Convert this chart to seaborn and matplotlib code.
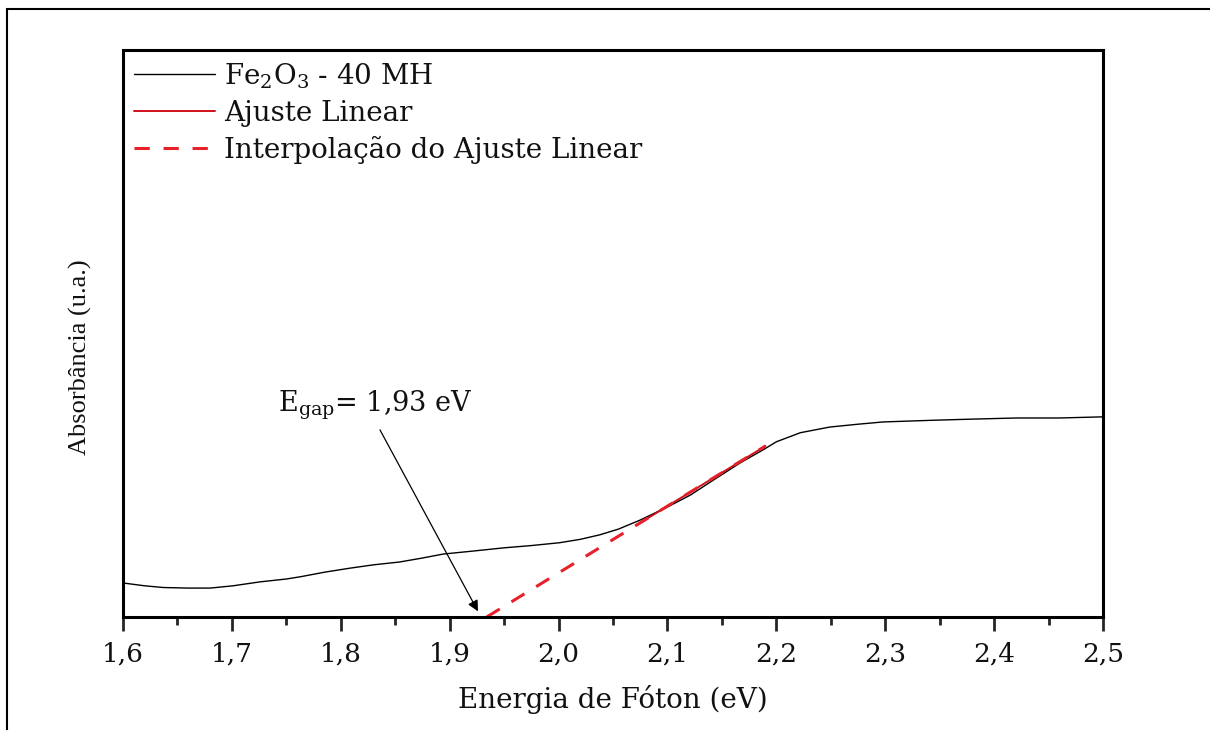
import numpy as np
import pandas as pd
import seaborn as sns
import matplotlib
matplotlib.use("Agg")
import matplotlib.pyplot as plt
from matplotlib.patches import Rectangle
from matplotlib.ticker import MultipleLocator, FuncFormatter

# Absorbance spectrum of Fe2O3 (arbitrary units) vs photon energy
energy = [1.600, 1.620, 1.637, 1.660, 1.680, 1.701, 1.726, 1.750, 1.763, 1.785,
          1.808, 1.830, 1.854, 1.875, 1.894, 1.920, 1.950, 1.975, 2.001, 2.020,
          2.038, 2.055, 2.075, 2.100, 2.121, 2.145, 2.167, 2.188, 2.200, 2.222,
          2.249, 2.275, 2.298, 2.344, 2.380, 2.421, 2.460, 2.500]
absorb = [0.060, 0.055, 0.052, 0.051, 0.051, 0.055, 0.062, 0.067, 0.071, 0.079,
          0.086, 0.092, 0.097, 0.104, 0.111, 0.116, 0.122, 0.126, 0.131, 0.137,
          0.145, 0.155, 0.171, 0.194, 0.215, 0.245, 0.272, 0.295, 0.309, 0.325,
          0.335, 0.340, 0.344, 0.347, 0.349, 0.351, 0.351, 0.353]

# Linear fit of the absorption edge and its extrapolation to zero
e_gap = 1.934
fit_slope = 1.178
fit_range = [2.075, 2.190]
extrap_range = [e_gap, 2.190]

x_ticks = [1.6, 1.7, 1.8, 1.9, 2.0, 2.1, 2.2, 2.3, 2.4, 2.5]

sns.set_theme(style="white")
plt.rcParams["font.family"] = ["DejaVu Serif"]
plt.rcParams["mathtext.fontset"] = "custom"
plt.rcParams["mathtext.rm"] = "DejaVu Serif"
plt.rcParams["mathtext.it"] = "DejaVu Serif"
plt.rcParams["mathtext.default"] = "regular"

fig = plt.figure(figsize=(12.1, 7.3), dpi=100)
ax = fig.add_axes([123 / 1210, 1 - 617 / 730, 980 / 1210, 567 / 730])

df = pd.DataFrame({"energy": energy, "absorb": absorb})
sns.lineplot(data=df, x="energy", y="absorb", ax=ax, color="black", lw=1.0,
             label=r"Fe$_2$O$_3$ - 40 MH")

xf = np.array(fit_range)
sns.lineplot(x=xf, y=fit_slope * (xf - e_gap), ax=ax, color="#d0101a", lw=1.4,
             label="Ajuste Linear")
xe = np.array(extrap_range)
ax.plot(xe, fit_slope * (xe - e_gap), color="#e8202a", lw=2.2,
        dashes=(5, 4.5), label="Interpolação do Ajuste Linear")

ax.set_xlim(1.6, 2.5)
ax.set_ylim(0.0, 1.0)
ax.set_xticks(x_ticks)
ax.xaxis.set_minor_locator(MultipleLocator(0.05))
ax.xaxis.set_major_formatter(FuncFormatter(lambda v, p: f"{v:.1f}".replace(".", ",")))
ax.set_yticks([])
ax.tick_params(axis="x", which="major", direction="out", length=10, width=2,
               labelsize=19, pad=8, bottom=True, labelcolor="#111111")
ax.tick_params(axis="x", which="minor", direction="out", length=6, width=2,
               bottom=True)
for sp in ax.spines.values():
    sp.set_color("black")
    sp.set_linewidth(2.2)

ax.set_xlabel("Energia de Fóton (eV)", fontsize=20, labelpad=13, color="#111111")
ax.set_ylabel("Absorbância (u.a.)", fontsize=19, color="#111111",
              family=["Liberation Serif", "DejaVu Serif"])
ax.yaxis.set_label_coords(-0.032, 0.459)

leg = ax.legend(loc="upper left", frameon=False, fontsize=20, handlelength=2.9,
                handletextpad=0.35, borderaxespad=0.2, labelspacing=0.33,
                borderpad=0.2)
for t in leg.get_texts():
    t.set_color("#111111")

label = f"{e_gap:.2f}".replace(".", ",")
ax.text(1.742, 0.374, r"E$_{gap}$= " + label + " eV", fontsize=19.5,
        ha="left", va="center", color="#111111")
ax.annotate("", xy=(1.926, 0.010), xytext=(1.836, 0.330),
            arrowprops=dict(arrowstyle="-|>", color="black", lw=0.9,
                            mutation_scale=16, shrinkA=0, shrinkB=0))

# thin outer frame around the figure
fig.patches.append(Rectangle((7 / 1210, -0.05), 1.1, 1 - 9 / 730 + 0.05,
                             transform=fig.transFigure, fill=False,
                             edgecolor="black", lw=1.5))

fig.savefig("out.png", dpi=100, facecolor="white")
